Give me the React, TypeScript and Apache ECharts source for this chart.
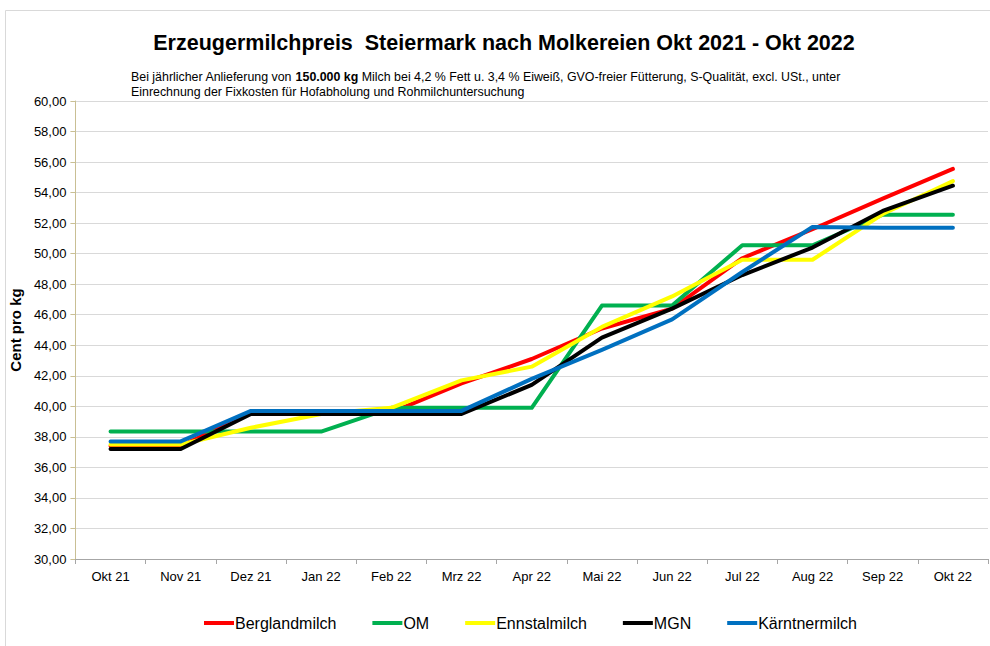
import React, { useEffect, useRef } from "react";
import * as echarts from "echarts";

const categories = ["Okt 21", "Nov 21", "Dez 21", "Jan 22", "Feb 22", "Mrz 22", "Apr 22", "Mai 22", "Jun 22", "Jul 22", "Aug 22", "Sep 22", "Okt 22"];
const berglandmilch = [37.4, 37.4, 39.6, 39.6, 39.6, 41.5, 43.1, 45.1, 46.4, 49.7, 51.6, 53.6, 55.55];
const om = [38.35, 38.35, 38.35, 38.35, 39.9, 39.9, 39.9, 46.6, 46.6, 50.55, 50.55, 52.55, 52.55];
const ennstalmilch = [37.5, 37.5, 38.6, 39.5, 39.9, 41.7, 42.6, 45.2, 47.2, 49.6, 49.6, 52.6, 54.75];
const mgn = [37.2, 37.2, 39.5, 39.5, 39.5, 39.5, 41.4, 44.5, 46.4, 48.6, 50.4, 52.8, 54.45];
const kaerntnermilch = [37.7, 37.7, 39.7, 39.7, 39.7, 39.7, 41.8, 43.7, 45.7, 48.8, 51.75, 51.7, 51.7];

const seriesDefs = [
  { name: "Berglandmilch", data: berglandmilch, color: "#ff0000" },
  { name: "OM", data: om, color: "#00b050" },
  { name: "Ennstalmilch", data: ennstalmilch, color: "#ffff00" },
  { name: "MGN", data: mgn, color: "#000000" },
  { name: "Kärntnermilch", data: kaerntnermilch, color: "#0070c0" },
];

const FONT = "'Liberation Sans', Arial, sans-serif";

export default function App() {
  const ref = useRef<HTMLDivElement>(null);
  useEffect(() => {
    document.body.style.margin = "0";
    const chart = echarts.init(ref.current!, null, { renderer: "svg" });
    chart.setOption({
      animation: false,
      backgroundColor: "#ffffff",
      textStyle: { fontFamily: FONT },
      title: {
        text: "Erzeugermilchpreis  Steiermark nach Molkereien Okt 2021 - Okt 2022",
        left: 499,
        textAlign: "center",
        top: 27,
        textStyle: { fontSize: 21.5, fontWeight: "bold", color: "#000", fontFamily: FONT },
      },
      graphic: [
        {
          type: "rect",
          shape: { x: 5.5, y: 10.5, width: 1000, height: 650 },
          style: { fill: "none", stroke: "#d9d9d9", lineWidth: 1 },
          silent: true,
        },
        {
          type: "text",
          x: 131,
          y: 69,
          style: {
            text: "{n|Bei jährlicher Anlieferung von }{b|150.000 kg}{n| Milch bei 4,2 % Fett u. 3,4 % Eiweiß, GVO-freier Fütterung, S-Qualität, excl. USt., unter}\n{n|Einrechnung der Fixkosten für Hofabholung und Rohmilchuntersuchung}",
            fill: "#000",
            font: `12.4px ${FONT}`,
            rich: {
              n: { fontSize: 12.4, fontFamily: FONT, lineHeight: 15, fill: "#000" },
              b: { fontSize: 12.4, fontFamily: FONT, fontWeight: "bold", lineHeight: 15, fill: "#000" },
            },
          },
        },
      ],
      legend: {
        bottom: 10,
        left: 199,
        itemWidth: 30,
        itemHeight: 4,
        itemGap: 36,
        icon: "rect",
        textStyle: { fontSize: 16, color: "#000", fontFamily: FONT, padding: [0, 0, 0, -4] },
        data: seriesDefs.map((s) => ({ name: s.name, itemStyle: { color: s.color } })),
      },
      grid: { left: 74, right: 2, top: 101, bottom: 87, containLabel: false },
      xAxis: {
        type: "category",
        data: categories,
        boundaryGap: true,
        axisLine: { show: true, lineStyle: { color: "#a6a6a6", width: 1 } },
        axisTick: { show: true, alignWithLabel: false, length: 5, lineStyle: { color: "#a6a6a6" } },
        axisLabel: { fontSize: 13, color: "#000", margin: 11, fontFamily: FONT },
        splitLine: { show: false },
      },
      yAxis: {
        type: "value",
        min: 30,
        max: 60,
        interval: 2,
        name: "Cent pro kg",
        nameLocation: "middle",
        nameGap: 43,
        nameRotate: 90,
        nameTextStyle: { fontSize: 15, fontWeight: "bold", color: "#000", fontFamily: FONT },
        axisLine: { show: true, lineStyle: { color: "#c9bf94", width: 1 } },
        axisTick: { show: true, length: 5, lineStyle: { color: "#c9bf94" } },
        axisLabel: {
          fontSize: 13,
          color: "#000",
          margin: 9,
          fontFamily: FONT,
          formatter: (v: number) => v.toFixed(2).replace(".", ","),
        },
        splitLine: { show: true, lineStyle: { color: "#d9d9d9", width: 1 } },
      },
      series: seriesDefs.map((s) => ({
        name: s.name,
        type: "line",
        data: s.data,
        symbol: "none",
        color: s.color,
        lineStyle: { color: s.color, width: 4, cap: "round", join: "round" },
      })),
    });
    return () => chart.dispose();
  }, []);
  return <div ref={ref} style={{ width: 990, height: 646 }} />;
}
